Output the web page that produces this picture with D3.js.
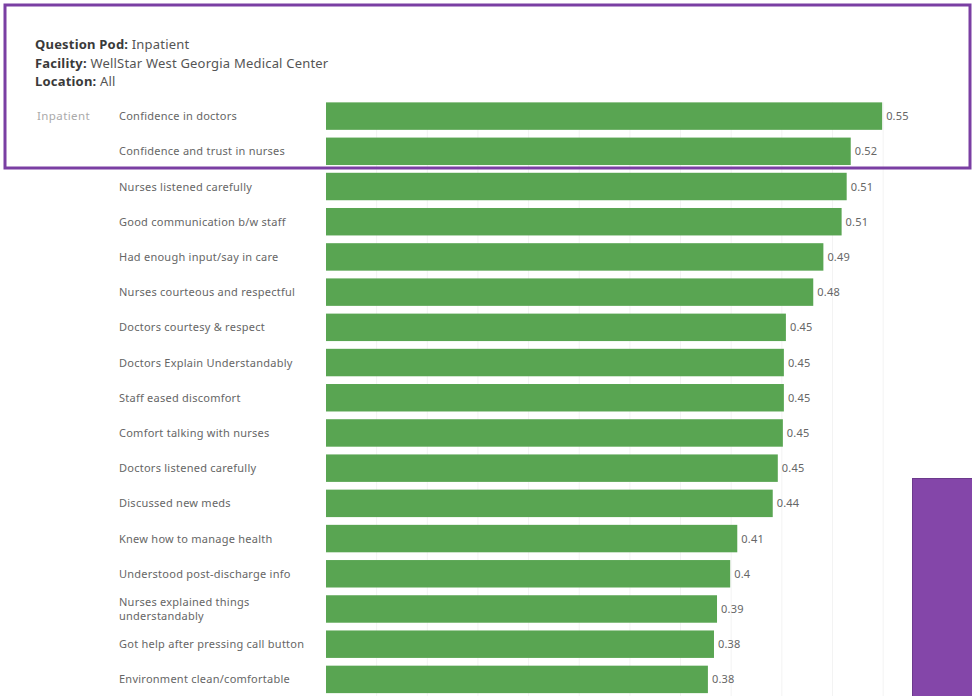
<!DOCTYPE html>
<html lang="en">
<head>
<meta charset="utf-8">
<script src="https://d3js.org/d3.v7.min.js"></script>
<style>
  body { margin: 0; background: #fff; }
  svg { display: block; font-family: "Noto Sans", "Open Sans", Arial, sans-serif; }
  .head { font-size: 13px; fill: #555; letter-spacing: 0.2px; }
  .head .k { font-weight: bold; fill: #3a3a3a; }
  .cat { font-size: 11px; fill: #666; letter-spacing: 0.25px; }
  .val { font-size: 11px; fill: #666; letter-spacing: 0.2px; }
  .pane { font-size: 11.5px; fill: #aaa; letter-spacing: 0.4px; }
</style>
</head>
<body>
<svg width="972" height="696"></svg>
<script>
// header lines: [key, value]
var headKeys = ["Question Pod:", "Facility:", "Location:"];
var headVals = ["Inpatient", "WellStar West Georgia Medical Center", "All"];

var pane = "Inpatient";

var questions = [
  "Confidence in doctors",
  "Confidence and trust in nurses",
  "Nurses listened carefully",
  "Good communication b/w staff",
  "Had enough input/say in care",
  "Nurses courteous and respectful",
  "Doctors courtesy & respect",
  "Doctors Explain Understandably",
  "Staff eased discomfort",
  "Comfort talking with nurses",
  "Doctors listened carefully",
  "Discussed new meds",
  "Knew how to manage health",
  "Understood post-discharge info",
  "Nurses explained things understandably",
  "Got help after pressing call button",
  "Environment clean/comfortable"
];

var scores = [0.549, 0.518, 0.514, 0.509, 0.491, 0.481, 0.454, 0.452, 0.452,
              0.451, 0.446, 0.441, 0.406, 0.399, 0.386, 0.383, 0.377];

var gridTicks = [0.05, 0.1, 0.15, 0.2, 0.25, 0.3, 0.35, 0.4, 0.45, 0.5, 0.55];

var svg = d3.select("svg");

var x = d3.scaleLinear().domain([0, 0.6]).range([326, 326 + 0.6 * 1013]);
var y = d3.scaleBand().domain(questions).range([98.5, 697])
  .paddingInner(0.22).paddingOuter(0.11);

// faint vertical gridlines
svg.append("g").selectAll("line").data(gridTicks).enter().append("line")
  .attr("x1", function(d) { return x(d); })
  .attr("x2", function(d) { return x(d); })
  .attr("y1", y(questions[0])).attr("y2", 696)
  .attr("stroke", "#f3f3f3").attr("stroke-width", 1);

// header
var head = svg.append("g");
headKeys.forEach(function(k, i) {
  var t = head.append("text").attr("class", "head")
    .attr("x", 35).attr("y", 49 + i * 18.5);
  t.append("tspan").attr("class", "k").text(k + " ");
  t.append("tspan").text(headVals[i]);
});

svg.append("text").attr("class", "pane")
  .attr("x", 37).attr("y", y(questions[0]) + y.bandwidth() / 2 + 4)
  .text(pane);

// bars
svg.append("g").selectAll("rect").data(questions).enter().append("rect")
  .attr("x", x(0))
  .attr("y", function(d) { return y(d); })
  .attr("width", function(d, i) { return x(scores[i]) - x(0); })
  .attr("height", y.bandwidth())
  .attr("fill", "#59a552");

// value labels
svg.append("g").selectAll("text").data(questions).enter().append("text")
  .attr("class", "val")
  .attr("x", function(d, i) { return x(scores[i]) + 4; })
  .attr("y", function(d) { return y(d) + y.bandwidth() / 2 + 4; })
  .text(function(d, i) { return String(+scores[i].toFixed(2)); });

// category labels, wrapped to the label column
svg.append("g").selectAll("text").data(questions).enter().append("text")
  .attr("class", "cat")
  .attr("x", 119)
  .attr("y", function(d) { return y(d) + y.bandwidth() / 2 + 4; })
  .each(function(d) {
    var el = d3.select(this), words = d.split(" "), lines = [], line = [];
    el.text(d);
    if (this.getComputedTextLength() <= 200) return;
    el.text(null);
    var probe = el.append("tspan");
    words.forEach(function(w) {
      line.push(w);
      probe.text(line.join(" "));
      if (probe.node().getComputedTextLength() > 150 && line.length > 1) {
        line.pop();
        lines.push(line.join(" "));
        line = [w];
      }
    });
    lines.push(line.join(" "));
    probe.remove();
    var yc = +el.attr("y") - (lines.length - 1) * 7;
    lines.forEach(function(l, j) {
      el.append("tspan").attr("x", 119).attr("y", yc + j * 14).text(l);
    });
  });

// purple highlight frame round the top
svg.append("rect")
  .attr("x", 5).attr("y", 5).attr("width", 965).attr("height", 163)
  .attr("fill", "none").attr("stroke", "#7a3fa3").attr("stroke-width", 3);

// purple block bottom right
svg.append("rect")
  .attr("x", 912.5).attr("y", 478.5).attr("width", 62).attr("height", 220)
  .attr("fill", "#8446a9").attr("stroke", "#6c3a8c").attr("stroke-width", 1);
</script>
</body>
</html>
